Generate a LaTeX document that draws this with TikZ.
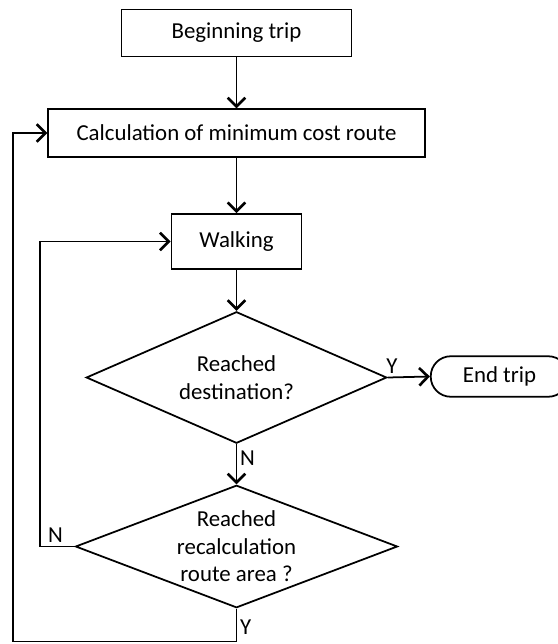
\documentclass[tikz,border=0pt]{standalone}
\usepackage{fontspec}
\setmainfont{Carlito}
\usepackage{tikz}
\usetikzlibrary{arrows.meta,shapes.geometric,calc}

\begin{document}
\begin{tikzpicture}[line width=1pt,>={Straight Barb[length=5pt,width=10pt,line width=1.5pt]},
	font=\fontsize{13}{15.6}\selectfont,
	box/.style={rectangle,draw,inner sep=2pt},
	decision/.style={diamond,draw,align=center,inner sep=0pt},
	term/.style={rectangle,draw,rounded corners=0.4cm,minimum width=2.75cm,minimum height=0.81cm},
	lbl/.style={inner sep=1.5pt}]
\useasboundingbox (0,0) rectangle (11.14,-12.88);
\node (begin) at (4.73,-0.66)[box,minimum width=4.6cm,minimum height=0.94cm] {Beginning trip};
\node (calc) at (4.73,-2.66)[box,minimum width=7.53cm,minimum height=0.95cm] {Calculation of minimum cost route};
\node (walk) at (4.73,-4.83)[box,minimum width=2.6cm,minimum height=1.1cm] {Walking};
\node (dest) at (4.73,-7.55)[decision,aspect=2.3,minimum width=6.01cm,minimum height=2.63cm] {Reached\\destination?};
\node (endtrip) at (9.99,-7.53)[term] {End trip};
\node (recalc) at (4.73,-10.93)[decision,aspect=2.6,minimum width=6.44cm,minimum height=2.45cm] {Reached\\recalculation\\route area ?};

\coordinate (nleft) at (0.8,-10.93);
\coordinate (ybottom) at (0.26,-12.83);

\draw[->] (begin) -- (calc);
\draw[->] (calc) -- (walk);
\draw[->] (walk) -- (dest);
\draw[->] (dest.east) -- node[lbl,pos=0.1,above] (yend) {Y} (endtrip.west);
\draw[->] (dest.south) -- node[lbl,pos=0.35,right] (ndest) {N} (recalc.north);

\draw[->] (recalc.west) -- node[lbl,pos=0.55,above] (nrecalc) {N} (nleft) |- (walk.west);
\draw[->] (recalc.south) -- node[lbl,pos=0.55,right] (yrecalc) {Y} (recalc.south|-ybottom) -- (ybottom) |- (calc.west);
\end{tikzpicture}
\end{document}
